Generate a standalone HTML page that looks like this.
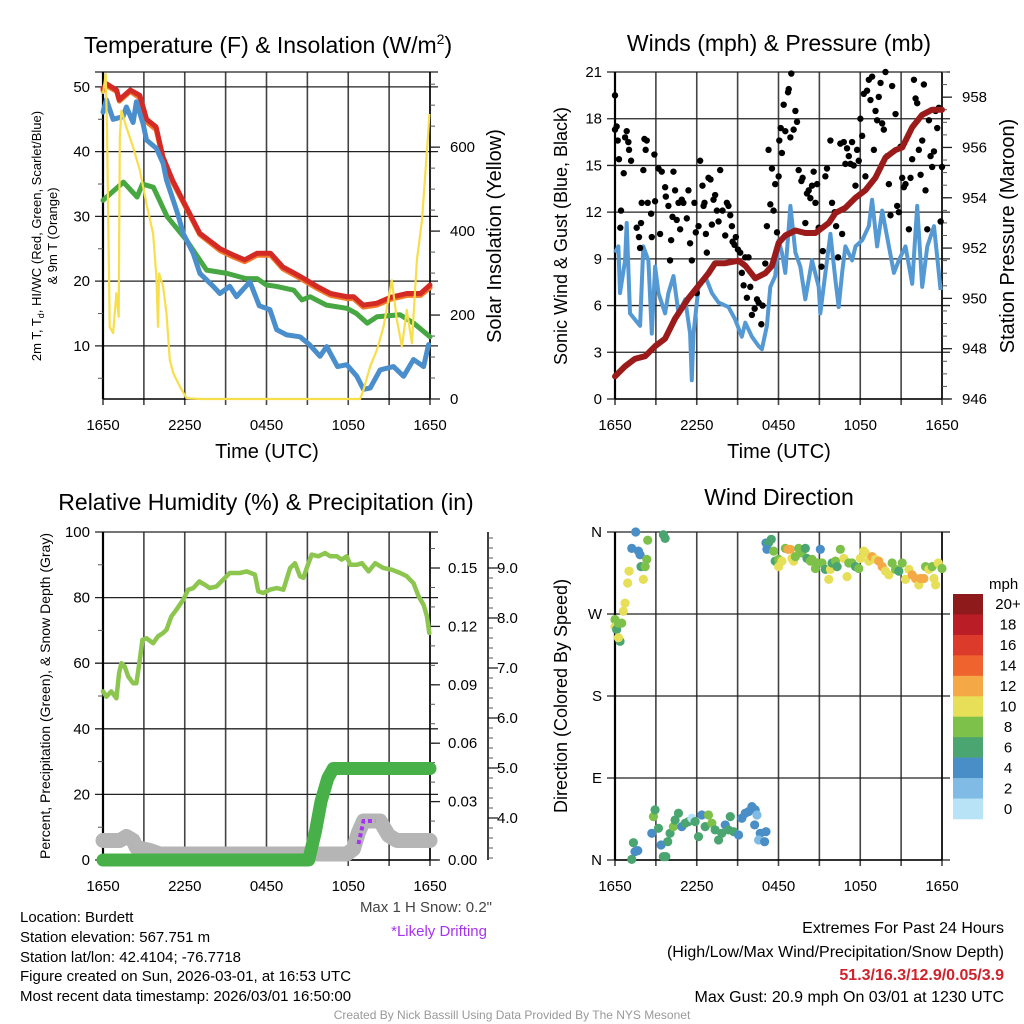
<!DOCTYPE html>
<html><head><meta charset="utf-8"><style>
html,body{margin:0;padding:0;background:#fff}
svg{display:block;font-family:"Liberation Sans",Arial,sans-serif}
</style></head><body>
<svg id="fig" width="1024" height="1024" viewBox="0 0 1024 1024" xmlns="http://www.w3.org/2000/svg">
<rect width="1024" height="1024" fill="#fff"/>
<g id="g1"></g>
<g id="g2"></g>
<g id="g3"></g>
<g id="g4"></g>
<text x="268" y="53" font-size="23" text-anchor="middle">Temperature (F) &amp; Insolation (W/m<tspan font-size="14" dy="-9">2</tspan><tspan dy="9">)</tspan></text>
<text x="779" y="51" font-size="23" text-anchor="middle">Winds (mph) &amp; Pressure (mb)</text>
<text x="266" y="510" font-size="23" text-anchor="middle">Relative Humidity (%) &amp; Precipitation (in)</text>
<text x="779" y="505" font-size="23" text-anchor="middle">Wind Direction</text>
<text x="267" y="458" font-size="20" text-anchor="middle">Time (UTC)</text>
<text x="779" y="458" font-size="20" text-anchor="middle">Time (UTC)</text>
<g transform="translate(41,236) rotate(-90)" font-size="13" text-anchor="middle"><text>2m T, T<tspan font-size="9" dy="3">d</tspan><tspan dy="-3">, HI/WC (Red, Green, Scarlet/Blue)</tspan></text><text y="16">&amp; 9m T (Orange)</text></g>
<text transform="translate(501,236) rotate(-90)" font-size="20" text-anchor="middle">Solar Insolation (Yellow)</text>
<text transform="translate(567,236) rotate(-90)" font-size="18" text-anchor="middle">Sonic Wind &amp; Gust (Blue, Black)</text>
<text transform="translate(1014,236) rotate(-90)" font-size="20" text-anchor="middle">Station Pressure (Maroon)</text>
<text transform="translate(50,696) rotate(-90)" font-size="14" text-anchor="middle">Percent, Precipitation (Green), &amp; Snow Depth (Gray)</text>
<text transform="translate(567,696) rotate(-90)" font-size="18" text-anchor="middle">Direction (Colored By Speed)</text>
<text x="492" y="912" font-size="15" fill="#444" text-anchor="end">Max 1 H Snow: 0.2"</text>
<text x="487" y="936" font-size="15" fill="#a633f2" text-anchor="end">*Likely Drifting</text>
<g font-size="15">
<text x="20" y="922">Location: Burdett</text>
<text x="20" y="942">Station elevation: 567.751 m</text>
<text x="20" y="962">Station lat/lon: 42.4104; -76.7718</text>
<text x="20" y="981">Figure created on Sun, 2026-03-01, at 16:53 UTC</text>
<text x="20" y="1001">Most recent data timestamp: 2026/03/01 16:50:00</text>
</g>
<g font-size="16" text-anchor="end">
<text x="1004" y="933">Extremes For Past 24 Hours</text>
<text x="1004" y="957">(High/Low/Max Wind/Precipitation/Snow Depth)</text>
<text x="1004" y="980" fill="#d0222b" font-weight="bold">51.3/16.3/12.9/0.05/3.9</text>
<text x="1004" y="1002">Max Gust: 20.9 mph On 03/01 at 1230 UTC</text>
</g>
<text x="512" y="1019" font-size="12" fill="#999" text-anchor="middle">Created By Nick Bassill Using Data Provided By The NYS Mesonet</text>
</svg>
<script>
// ---------- DATA ----------
const timeTicks = ["1650","2250","0450","1050","1650"];
// Temperature panel (hours since 1650 UTC, degF)
const tempHours = [0,0.25,1,1.2,2,2.7,3.2,3.9,4.4,5.1,6.1,7.1,8.6,9.6,10.4,11.3,12.3,13.2,14.5,15.7,16.7,17.9,18.4,19.1,20.1,21.1,22.3,23.3,24];
const tempF =     [49.7,50.5,49.5,48,49.5,48.7,45,43.8,39.2,35.6,31.5,27.4,25,24,23.3,24.3,24.3,22.2,20.7,19.2,18.1,17.6,17.6,16.3,16.6,17.5,18.1,18.1,19.4];
const temp9mF =   [49.4,50.2,49.3,47.8,49.3,48.3,44.6,43.4,38.9,35.3,31.3,27.2,24.7,23.7,23.0,24.0,24.0,21.9,20.4,18.9,17.8,17.3,17.3,16.0,16.3,17.2,17.8,17.8,19.0];
const dewHours = [0,1.5,2.5,2.9,3.7,4.7,6.1,7.6,9.1,10.5,11.3,12,12.7,14,14.6,15.2,16.4,17.9,18.6,19.4,20.1,21.8,22.8,24];
const dewF =     [32.5,35.3,33,35,34.5,30,26.4,21.7,21.2,20.4,20.4,19.4,19.2,18.6,17.1,17.6,16.3,15.8,15,13.5,14.5,14.8,13.5,11.4];
const hiwcHours = [0,0.25,0.74,1.47,1.72,2.21,2.45,2.94,3.19,3.92,4.41,4.66,5.15,5.51,5.88,6.62,7.11,8.09,8.58,9.31,9.8,10.78,11.47,12.25,12.75,13.48,14.46,15.15,15.93,16.42,17.21,17.89,18.63,19.12,19.61,20.34,21.32,22.06,22.79,23.53,23.9];
const hiwcF =     [46.1,48,45,45.4,46.9,44.5,47.7,44.3,41.8,40.5,38.2,35.6,32.5,30.2,27.4,24.3,21.2,19.2,18.1,19.2,17.6,19.9,16.2,15.6,12.5,11.7,11.4,10.2,8.4,9.9,6.8,7.1,5.3,3.3,3.5,6.3,6.8,5.3,7.9,6.8,10.2];
const solarHours = [0,0.2,0.29,0.49,0.74,0.98,1.15,1.23,1.35,1.72,2.21,2.7,3.19,3.68,3.92,4.04,4.12,4.41,4.66,4.9,5.15,5.64,6.13,7.11,18.87,19.12,19.61,20.1,20.59,21.2,21.57,21.94,22.3,22.67,23.04,23.41,23.9,23.95];
const solarW =     [727,774,647,172,157,252,196,624,687,647,600,545,465,394,291,172,299,268,204,93,62,30,2,0,0,22,78,117,172,283,188,125,212,133,331,426,647,679];
// Winds panel
const windHours = [0,0.25,0.37,0.74,0.86,1.1,1.47,1.84,2.08,2.45,2.7,2.94,3.19,3.68,3.92,4.29,4.66,5.15,5.51,5.64,5.76,6.13,6.62,7.11,7.6,8.33,8.82,9.31,9.56,10.05,10.54,10.78,11.15,11.4,11.76,12.01,12.25,12.5,12.87,13.24,13.6,13.97,14.46,14.95,15.07,15.44,15.81,16.18,16.42,16.67,16.91,17.4,17.65,18.14,18.63,18.87,19.24,19.61,20.1,20.47,20.83,21.32,21.81,22.18,22.55,22.92,23.41,23.9];
const windMph =   [9.4,9.8,6.8,8.9,11.3,5.5,5.1,4.7,9.8,8.9,4.2,8.5,6.8,5.5,6.8,7.9,5.5,6.4,4.2,1.2,4.2,7.2,7.9,6.8,6.2,5.9,5.1,4.0,4.9,4.0,3.4,3.2,4.7,7.2,7.9,10.2,9.4,8.1,12.4,9.4,8.5,6.4,8.9,7.2,5.5,8.1,10.6,7.6,5.9,8.1,9.8,8.9,9.8,10.2,11.1,12.8,9.8,12.1,9.8,8.1,8.9,9.8,7.4,12.4,7.2,9.8,11.1,7.0];
const presHours = [0,0.74,1.47,2.21,2.94,3.68,4.41,5.39,6.13,6.86,7.35,8.09,9.07,9.56,10.29,11.03,11.52,12.01,12.5,13.24,13.97,14.71,15.2,15.69,16.18,16.91,17.65,18.38,19.12,19.85,20.59,21.08,21.81,22.55,23.28,24];
const presMb =    [946.9,947.3,947.6,947.7,948.1,948.4,949.2,950,950.5,951,951.4,951.4,951.5,951.3,950.8,951,951.3,952.2,952.5,952.7,952.6,952.6,952.8,953,953.4,953.6,954,954.3,954.8,955.6,955.9,956,956.8,957.3,957.5,957.5];
const gustHours = [0,0,0.12,0.2,0.29,0.39,0.44,0.64,0.74,0.86,0.98,1.03,1.18,1.59,1.76,1.84,1.91,1.96,2.08,2.16,2.25,2.33,2.4,2.65,2.7,2.89,2.94,3.19,3.31,3.43,3.68,3.73,3.92,4.04,4.12,4.22,4.29,4.41,4.53,4.66,4.78,4.9,5.02,5.27,5.39,5.51,5.64,5.83,5.93,6.0,6.13,6.25,6.42,6.5,6.57,6.67,6.74,6.86,7.01,7.11,7.23,7.35,7.48,7.6,7.72,7.89,8.09,8.21,8.33,8.46,8.58,8.63,8.77,8.87,9.02,9.19,9.31,9.44,9.56,9.68,9.8,9.93,10.05,10.25,10.42,10.54,10.74,10.83,11.03,11.15,11.27,11.4,11.52,11.64,11.76,11.89,12.01,12.06,12.16,12.25,12.38,12.5,12.7,12.75,12.87,12.94,13.11,13.24,13.36,13.48,13.68,13.77,13.97,14.09,14.22,14.34,14.46,14.58,14.71,14.83,14.95,15.15,15.25,15.44,15.56,15.81,15.93,16.13,16.23,16.37,16.54,16.67,16.79,16.91,17.03,17.16,17.28,17.4,17.52,17.65,17.77,17.89,18.01,18.14,18.26,18.38,18.5,18.63,18.75,18.87,19.0,19.12,19.24,19.36,19.49,19.61,19.73,19.85,19.98,20.1,20.22,20.34,20.59,20.71,20.83,20.96,21.08,21.2,21.32,21.57,21.69,21.81,21.94,22.06,22.18,22.3,22.43,22.55,22.67,22.79,22.92,23.04,23.16,23.28,23.41,23.53,23.65,23.77,23.9,24];
const gustMph =   [19.5,17.3,17.5,16.6,15.4,11.0,12.1,14.5,16.8,17.2,16.5,16.0,15.3,11.0,10.4,9.7,11.3,12.6,14.7,16.7,16.0,16.6,12.6,11.9,10.4,15.7,12.7,14.8,10.6,14.6,13.6,13.0,12.4,8.9,10.2,11.7,14.6,13.4,11.5,12.6,10.9,12.8,12.6,11.6,13.4,10.0,8.9,12.6,10.7,6.8,11.1,15.3,13.7,12.4,12.6,10.6,9.4,14.2,14.1,11.2,12.8,13.1,12.1,11.4,14.7,12.1,10.5,12.6,12.4,11.8,11.1,10.1,9.9,10.4,9.6,9.4,8.1,7.3,9.1,6.5,9.1,7.2,5.4,5.8,6.4,6.2,4.8,6.0,8.7,11.1,16.0,12.5,14.8,12.1,13.8,10.7,14.3,16.6,17.4,15.8,18.9,17.2,19.7,19.9,16.8,20.9,17.3,18.5,17.8,14.7,14.0,14.2,11.3,13.2,13.4,12.9,13.7,14.6,12.6,13.8,11.0,8.5,9.5,14.3,14.8,16.6,12.6,12.0,11.1,9.1,16.4,10.6,16.5,15.1,16.1,15.6,15.1,16.5,15.0,13.7,16.0,15.3,18.0,16.9,19.6,14.3,19.8,20.5,19.2,20.7,16.0,18.5,17.9,19.4,20.3,17.7,17.3,21.0,15.6,13.8,11.8,20.1,18.3,12.4,12.0,16.2,14.2,13.6,13.8,10.9,14.2,15.4,20.5,19.3,19.0,16.0,14.4,16.6,20.2,13.4,10.9,17.9,15.6,14.9,15.9,18.5,17.4,18.7,11.4,14.9];
// Humidity panel
const rhHours = [0,0.25,0.61,0.98,1.18,1.35,1.59,1.84,2.21,2.45,2.7,2.89,3.19,3.68,4.04,4.41,4.66,5.02,5.39,5.88,6.25,6.62,7.06,7.48,7.84,8.33,8.82,9.31,10.05,10.54,11.15,11.4,11.76,12.25,12.75,13.24,13.73,14.09,14.46,14.71,14.95,15.32,15.81,16.3,16.67,17.16,17.52,17.89,18.14,18.63,19.0,19.49,19.98,20.59,21.2,21.81,22.3,22.79,23.16,23.53,23.77,23.95];
const rhPct =   [51.4,49.8,51.4,49.3,57,60,59,56,53.9,53.9,61,67.1,67.6,66.1,68.2,69.2,70.2,74.3,76.3,79.3,82.4,82.9,84.9,83.9,82.9,83.4,85.5,87.5,87.5,88,87,81.9,81.4,82.4,82.9,82.4,89,90.5,86.5,86,89,93.1,92.6,93.6,92.6,92.6,91.6,92.6,90,90,90.5,88,90.5,89,88.5,87.5,86.5,84.4,80.4,77.8,74.3,69.2];
const precipHours = [0,15.1,15.6,16.0,16.5,16.9,24];
const precipIn =    [0,0,0.015,0.03,0.042,0.047,0.047];
const snowHours = [0,1.23,1.72,2.21,2.45,3.43,4.17,17.89,18.38,18.75,19.12,20.34,20.96,21.57,22.79,24];
const snowIn =    [3.55,3.55,3.63,3.55,3.41,3.35,3.28,3.28,3.38,3.71,3.94,3.94,3.65,3.55,3.55,3.55];
const driftHours = [18.75,19.12,19.98];
const driftIn =    [3.48,3.94,3.94];
// Direction panel
const dirHours = [0,0,0.12,0.25,0.49,0.37,0.25,0.61,0.74,0.93,1.03,1.23,1.52,1.72,1.84,1.91,2.08,2.21,2.33,2.4,3.55,3.68,
11.08,11.27,11.47,11.15,11.64,11.76,12.01,12.01,12.25,12.5,12.7,12.87,12.99,13.11,13.24,13.48,13.73,13.97,14.09,14.34,14.46,14.71,14.83,15.07,15.2,15.44,15.69,15.81,15.93,16.18,16.3,16.54,16.79,17.03,17.16,17.4,17.65,17.89,18.01,18.26,18.38,18.63,18.87,19.12,19.36,19.61,19.85,20.1,20.34,20.59,20.83,21.08,21.32,21.57,21.81,22.06,22.3,22.43,22.67,22.79,23.04,23.28,23.41,23.53,23.73,24,
1.23,1.35,1.47,1.67,2.7,2.82,2.94,3.19,3.38,3.55,3.73,3.87,4.04,4.29,4.41,4.66,4.9,5.15,5.39,5.64,5.88,6.13,6.37,6.62,6.86,7.11,7.35,7.6,7.84,8.09,8.33,8.46,8.7,9.07,9.31,9.56,9.8,10.05,10.29,10.42,10.25,10.66,10.54,10.98,11.08];
const dirDeg = [264,256,253,260,260,240,244,273,282,304,317,342,360,339,335,322,308,322,330,351,357,353,
348,348,352,341,339,328,330,322,328,342,341,341,331,328,333,342,337,342,331,328,330,320,326,341,326,319,308,319,326,328,322,341,331,311,326,326,322,320,331,339,337,328,333,330,328,322,317,313,326,319,317,326,308,319,313,309,302,309,309,322,319,322,309,302,326,320,
0.7,19,9.2,10.3,29.3,47.6,55,34.8,16.5,3.7,3.7,20.1,29.3,36.6,43.9,51.3,36.6,40.3,42.1,45.8,42.1,25.6,49.4,36.6,49.4,40.3,33,22,29.3,38.5,33,47.6,31.1,27.5,45.8,51.3,53.1,58.6,55,49.4,38.5,29.3,22,20.1,31.1];
const dirSpeed = [8,10,6,8,8,6,10,10,10,10,10,4,4,4,4,6,10,8,8,8,6,6,
4,6,6,4,8,6,8,10,10,8,12,12,10,10,8,8,8,6,6,8,8,8,8,4,8,6,10,10,6,8,6,8,10,10,8,8,6,8,10,10,10,10,12,10,12,12,10,10,8,8,6,8,10,10,12,12,10,12,12,8,10,8,10,10,10,8,
6,6,4,4,4,8,6,6,4,6,6,6,6,8,6,6,4,6,6,0,6,6,4,6,8,8,6,6,6,4,6,6,6,4,4,4,4,4,4,2,4,4,2,4,4];
const speedBins = ["0","2","4","6","8","10","12","14","16","18","20+"];
const speedColors = ["#b8e3f7","#7fbbe4","#4a8ec7","#4aa570","#7dc04a","#e6df57","#f5a946","#ef632e","#dc3a2b","#bb1d26","#8f1a1c"];

// ---------- HELPERS ----------
const NS="http://www.w3.org/2000/svg";
function mk(parent,tag,attrs){const e=document.createElementNS(NS,tag);for(const k in attrs)e.setAttribute(k,attrs[k]);parent.appendChild(e);return e;}
function lin(d0,d1,r0,r1){return v=>r0+(v-d0)/(d1-d0)*(r1-r0);}
function pathD(xs,ys,fx,fy){return xs.map((t,i)=>(i?"L":"M")+fx(t).toFixed(1)+","+fy(ys[i]).toFixed(1)).join("");}

function frame(g,x0,x1,y0,y1,leftTicks,fyL,grid){
  const fx=lin(0,24,x0,x1);
  for(let k=0;k<=8;k++){
    const l=mk(g,"line",{x1:fx(k*3),x2:fx(k*3),y1:y0,y2:y1+6,stroke:"#444","stroke-width":1.6});
    
    
  }
  timeTicks.forEach((s,i)=>{
    const t=mk(g,"text",{x:fx(i*6),y:y1+31,"font-size":15,"text-anchor":"middle"});
    
    
    t.textContent=s;
  });
  leftTicks.forEach(v=>{
    const y=fyL(v.v);
    const l=mk(g,"line",{x1:x0-8,x2:grid?x1+8:x0,y1:y,y2:y,stroke:"#222","stroke-width":1.3});
    
    
    if(v.label!==undefined){
      const t=mk(g,"text",{x:x0-13,y:y+5,"font-size":15,"text-anchor":"end"});
      
      
      t.textContent=v.label;
    }
  });
  mk(g,"line",{x1:x0,x2:x0,y1:y0,y2:y1,stroke:"#000","stroke-width":2.2});
  mk(g,"line",{x1:x0,x2:x1,y1:y1,y2:y1,stroke:"#000","stroke-width":1.5});
  mk(g,"line",{x1:x1,x2:x1,y1:y0,y2:y1,stroke:"#000","stroke-width":1.5});
  return fx;
}
function rightAxis(g,x,fy,majors,minors,fmt,labelX){
  minors.forEach(v=>{const l=mk(g,"line",{x1:x,x2:x+5,y1:fy(v),y2:fy(v),stroke:"#555","stroke-width":1});
    });
  majors.forEach(v=>{const l=mk(g,"line",{x1:x,x2:x+10,y1:fy(v),y2:fy(v),stroke:"#222","stroke-width":1.3});
    
    const t=mk(g,"text",{x:labelX,y:fy(v)+5,"font-size":15});
    
    t.textContent=fmt(v);});
}
function range(a,b,s){const r=[];for(let v=a;v<=b+1e-9;v+=s)r.push(+v.toFixed(4));return r;}

// ---------- PANEL 1 ----------
{
  const g=document.getElementById("g1");
  const x0=103,x1=430,y0=72,y1=399;
  const fy=lin(1.8,52.3,y1,y0), fs=lin(0,779,y1,y0);
  const ticks=[10,20,30,40,50].map(v=>({v,label:String(v)})).concat([{v:52.3}]);
  const fx=frame(g,x0,x1,y0,y1,ticks,fy,true);
  [5,15,25,35,45].forEach(v=>mk(g,"line",{x1:x0-5,x2:x0,y1:fy(v),y2:fy(v),stroke:"#555"}));
  rightAxis(g,x1,fs,[0,200,400,600],range(0,750,50),v=>String(v),x1+20);
  let p;
  p=mk(g,"path",{d:pathD(tempHours,temp9mF,fx,fy),fill:"none",stroke:"#f07a2a","stroke-width":5,"stroke-linejoin":"round","stroke-linecap":"round"});
  
  p=mk(g,"path",{d:pathD(tempHours,tempF,fx,fy),fill:"none",stroke:"#d42a25","stroke-width":5,"stroke-linejoin":"round","stroke-linecap":"round"});
  
  p=mk(g,"path",{d:pathD(dewHours,dewF,fx,fy),fill:"none",stroke:"#47a843","stroke-width":5,"stroke-linejoin":"round","stroke-linecap":"round"});
  
  p=mk(g,"path",{d:pathD(hiwcHours,hiwcF,fx,fy),fill:"none",stroke:"#4a8fcc","stroke-width":5,"stroke-linejoin":"round","stroke-linecap":"round"});
  
  p=mk(g,"path",{d:pathD(solarHours,solarW,fx,fs),fill:"none",stroke:"#f7de4a","stroke-width":2.2,"stroke-linejoin":"round"});
  
}
// ---------- PANEL 2 ----------
{
  const g=document.getElementById("g2");
  const x0=615,x1=942,y0=72,y1=399;
  const fy=lin(0,21,y1,y0), fp=lin(946,959,y1,y0);
  const ticks=range(0,21,3).map(v=>({v,label:String(v)}));
  const fx=frame(g,x0,x1,y0,y1,ticks,fy,true);
  rightAxis(g,x1,fp,range(946,958,2),range(946,959,0.5),v=>String(v),x1+20);
  let p=mk(g,"path",{d:pathD(windHours,windMph,fx,fy),fill:"none",stroke:"#5499d3","stroke-width":4,"stroke-linejoin":"round"});
  
  gustHours.forEach((t,i)=>{
    const c=mk(g,"circle",{cx:fx(t),cy:fy(gustMph[i]),r:3.2,fill:"#000"});
    
    
  });
  p=mk(g,"path",{d:pathD(presHours,presMb,fx,fp),fill:"none",stroke:"#9b1b1b","stroke-width":6,"stroke-linejoin":"round","stroke-linecap":"round"});
  
}
// ---------- PANEL 3 ----------
{
  const g=document.getElementById("g3");
  const x0=103,x1=430,y0=532,y1=860;
  const fy=lin(0,100,y1,y0), fpr=lin(0,0.1685,y1,y0), fsn=lin(3.16,9.72,y1,y0);
  const ticks=range(0,100,20).map(v=>({v,label:String(v)}));
  const fx=frame(g,x0,x1,y0,y1,ticks,fy,true);
  [10,30,50,70,90].forEach(v=>mk(g,"line",{x1:x0-5,x2:x0,y1:fy(v),y2:fy(v),stroke:"#555"}));
  rightAxis(g,x1,fpr,range(0,0.15,0.03),range(0,0.165,0.01),v=>v.toFixed(2),x1+18);
  mk(g,"line",{x1:488,x2:488,y1:y0,y2:y1,stroke:"#000","stroke-width":1.5});
  rightAxis(g,488,fsn,range(4,9,1),range(3.2,9.6,0.2),v=>v.toFixed(1),497);
  let p=mk(g,"path",{d:pathD(snowHours,snowIn,fx,fsn),fill:"none",stroke:"#b5b5b5","stroke-width":15,"stroke-linejoin":"round","stroke-linecap":"round"});
  
  p=mk(g,"path",{d:pathD(driftHours,driftIn,fx,fsn),fill:"none",stroke:"#a633f2","stroke-width":4,"stroke-dasharray":"4 3"});
  
  p=mk(g,"path",{d:pathD(precipHours,precipIn,fx,fpr),fill:"none",stroke:"#48b048","stroke-width":13,"stroke-linejoin":"round","stroke-linecap":"round"});
  
  p=mk(g,"path",{d:pathD(rhHours,rhPct,fx,fy),fill:"none",stroke:"#8cc64e","stroke-width":4.5,"stroke-linejoin":"round","stroke-linecap":"round"});
  
}
// ---------- PANEL 4 ----------
{
  const g=document.getElementById("g4");
  const x0=615,x1=942,y0=532,y1=860;
  const fy=lin(0,360,y1,y0);
  const lbl=["N","E","S","W","N"];
  const ticks=[0,90,180,270,360].map((v,i)=>({v,label:lbl[i]}));
  const fx=frame(g,x0,x1,y0,y1,ticks,fy,true);
  dirHours.forEach((t,i)=>{
    const c=mk(g,"circle",{cx:fx(t),cy:fy(dirDeg[i]),r:4.6,fill:speedColors[Math.min(10,Math.round(dirSpeed[i]/2))]});
    
    
  });
  const cb=mk(g,"g",{});
  
  
  const t0=mk(cb,"text",{x:989,y:589,"font-size":15});
  
  
  t0.textContent="mph";
  const bh=225/speedBins.length;
  speedBins.forEach((s,i)=>{
    const k=speedBins.length-1-i;
    const r=mk(cb,"rect",{x:953,y:594+i*bh,width:30,height:bh+0.3,fill:speedColors[k]});
    
    
    const t=mk(cb,"text",{x:1008,y:594+i*bh+bh/2+5,"font-size":15,"text-anchor":"middle"});
    
    
    t.textContent=speedBins[k];
  });
}
</script>
</body></html>
